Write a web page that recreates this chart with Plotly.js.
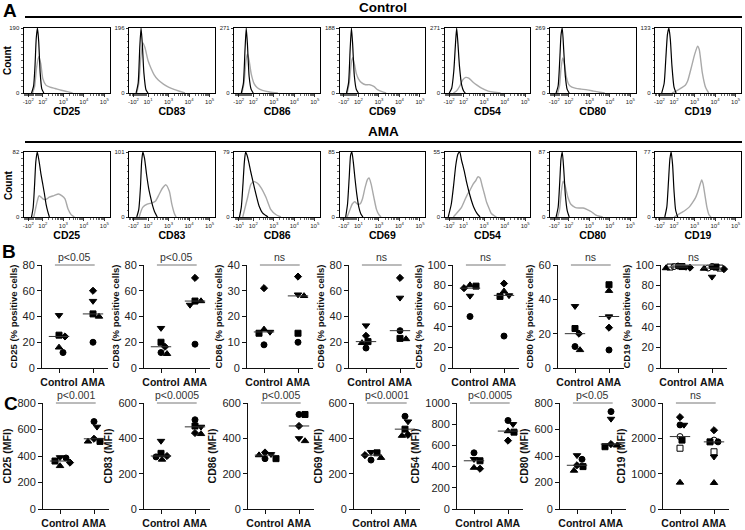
<!DOCTYPE html>
<html>
<head>
<meta charset="utf-8">
<script src="https://cdn.plot.ly/plotly-3.0.1.min.js"></script>
<style>html,body{margin:0;padding:0;background:#fff}#chart{width:745px;height:530px}</style>
</head>
<body>
<div id="chart"></div>
<script>
// ================= DATA =================
const markers = ['CD25','CD83','CD86','CD69','CD54','CD80','CD19'];

// Panel A: histograms (x = log10 fluorescence on logicle display, y = cell count)
const ctrlCountMax = [190,196,271,188,271,269,133];
const amaCountMax  = [82,101,79,85,55,87,77];
const ctrlLowExp  = [2,2,2,2,2,2,2];
const ctrlHighExp = [2,1,2,2,2,2,2];
const amaLowExp   = [2,2,1,2,2,2,2];
const amaHighExp  = [2,2,2,1,1,2,2];

const ctrlIsoX = [
 [1.45,1.55,1.62,1.68,1.74,1.8,1.87,1.95,2.05],
 [1.42,1.52,1.6,1.66,1.72,1.8,1.9,2.0],
 [1.42,1.52,1.6,1.66,1.72,1.8,1.9,2.0],
 [1.42,1.52,1.6,1.66,1.72,1.8,1.9,2.0],
 [1.3,1.42,1.52,1.6,1.66,1.72,1.8,1.9,2.0,2.08],
 [1.38,1.48,1.56,1.62,1.68,1.75,1.83,1.92,2.02],
 [1.4,1.52,1.6,1.68,1.75,1.82,1.9,2.0,2.1]
];
const ctrlIsoY = [
 [0,20,80,160,190,150,60,12,0],
 [0,30,140,196,150,60,10,0],
 [0,40,180,271,200,70,15,0],
 [0,30,130,188,140,50,10,0],
 [0,20,90,200,271,210,110,35,8,0],
 [0,30,140,240,269,180,70,15,0],
 [0,20,70,120,133,110,55,12,0]
];
const ctrlStainX = [
 [1.5,1.6,1.7,1.8,1.9,2.0,2.15,2.35,2.6,2.9,3.2,3.45],
 [1.45,1.55,1.65,1.75,1.85,2.0,2.15,2.3,2.5,2.75,3.0,3.3,3.6,3.8],
 [1.45,1.55,1.65,1.72,1.8,1.9,2.05,2.2,2.45,2.8,3.2],
 [1.45,1.55,1.65,1.72,1.8,1.9,2.0,2.15,2.35,2.55,2.75,2.95,3.15,3.35],
 [1.5,1.65,1.8,1.95,2.1,2.25,2.45,2.65,2.9,3.2,3.5,3.8],
 [1.45,1.55,1.62,1.7,1.78,1.88,2.0,2.15,2.35,2.6,2.9,3.2,3.5,3.75],
 [1.9,2.1,2.38,2.55,2.66,2.86,3.0,3.15,3.23,3.38,3.54,3.69]
];
const ctrlStainY = [
 [0,19,76,106,86,42,23,17,13,8,4,0],
 [0,29,108,151,137,98,74,55,39,27,18,10,4,0],
 [0,41,136,163,136,81,38,22,11,4,0],
 [0,28,85,102,85,56,41,30,24,24,19,9,4,0],
 [0,8,27,54,65,62,46,33,19,8,3,0],
 [0,32,102,145,121,67,35,24,19,16,13,8,3,0],
 [0,4,11,16,24,55,78,96,89,41,11,0]
];
const amaIsoX = [
 [1.45,1.53,1.6,1.66,1.73,1.82,1.91,2.0,2.08,2.16,2.24,2.32],
 [1.45,1.55,1.63,1.69,1.75,1.83,1.93,2.03,2.13,2.22,2.32,2.45],
 [1.33,1.42,1.5,1.57,1.63,1.7,1.78,1.88,1.97,2.13,2.29,2.45,2.6,2.72],
 [1.38,1.47,1.55,1.62,1.68,1.75,1.83,1.92,2.02,2.12,2.22],
 [1.25,1.4,1.52,1.62,1.72,1.81,1.9,2.03,2.15,2.25,2.38,2.5,2.65,2.8],
 [1.38,1.48,1.56,1.62,1.68,1.75,1.83,1.92,2.02],
 [1.55,1.65,1.73,1.8,1.86,1.93,2.0,2.08,2.18]
];
const amaIsoY = [
 [0,12,41,70,82,70,54,41,29,16,7,0],
 [0,12,45,86,101,91,66,45,30,18,8,0],
 [0,12,40,67,79,75,67,55,45,28,13,5,2,0],
 [0,17,51,81,85,72,51,30,13,4,0],
 [0,11,28,44,53,55,48,39,29,22,14,8,3,0],
 [0,13,48,78,87,65,30,9,0],
 [0,12,42,69,77,62,31,8,0]
];
const amaStainX = [
 [1.56,1.73,1.82,2.0,2.15,2.31,2.54,2.77,2.92,3.08,3.23,3.38,3.54],
 [1.57,1.74,1.96,2.21,2.37,2.54,2.71,2.87,3.04,3.16,3.29,3.37],
 [1.49,1.73,1.89,2.05,2.21,2.37,2.62,2.86,3.1,3.35],
 [1.45,1.58,1.7,1.82,1.95,2.08,2.2,2.32,2.44,2.52,2.62,2.75,2.88,3.0,3.1],
 [1.5,1.7,1.89,2.05,2.18,2.32,2.47,2.6,2.69,2.8,2.91,3.02,3.13,3.25,3.35,3.5,3.6],
 [1.45,1.55,1.63,1.72,1.82,1.96,2.1,2.3,2.5,2.7,2.9,3.1,3.3,3.5,3.65],
 [2.0,2.15,2.35,2.55,2.75,2.9,3.05,3.15,3.25,3.35,3.42,3.5,3.6,3.7,3.8]
];
const amaStainY = [
 [0,20,27,23,22,25,27,29,27,23,10,3,0],
 [0,15,20,22,25,35,45,50,40,20,5,0],
 [0,24,40,43,41,36,24,9,3,0],
 [0,9,17,20,17,17,24,38,49,51,43,26,10,3,0],
 [0,4,8,14,19,23,28,31,34,33,26,19,12,7,3,1,0],
 [0,10,33,48,42,26,17,13,12,12,10,7,3,1,0],
 [0,2,5,8,12,17,23,29,37,44,39,27,12,3,0]
];

// Panels B & C: one value per donor; donor symbols in this order
const donorSymbols = ['circle','square','triangle-up','triangle-down','diamond','circle-open','square-open'];
const groups = ['Control','AMA'];

const pctCtrl = [
 [12,25.5,16,41,24.5],
 [12,20,11,31,16.5],
 [9,13.5,15,14,31],
 [15.5,20.5,19.5,33,25],
 [50,79.5,80.5,70,77.5],
 [12.5,23,10.5,36,20],
 [99,98.5,97,98,97.5,98.5,98]
];
const pctAma = [
 [20,42,40,52,60],
 [18.5,52,52,49,70],
 [10,13.5,28,28.5,35.5],
 [29,23,22.5,54.5,70],
 [31,69.5,74.5,70.5,82],
 [10.5,48.5,45,30,23.5],
 [98.5,98,96.5,88.5,96,97,97]
];
const pctMax  = [80,80,40,80,100,60,100];
const pctStep = [20,20,10,20,20,20,20];
const pctP = ['p<0.05','p<0.05','ns','ns','ns','ns','ns'];

const mfiCtrl = [
 [385,362,325,390,350],
 [295,315,280,385,300],
 [285,285,305,310,320],
 [277,318,290,322,305],
 [530,455,390,470,380],
 [375,320,290,405,330],
 [2380,1950,750,2380,2600,2050,1720]
];
const mfiAma = [
 [660,510,510,620,530],
 [505,470,425,465,430],
 [535,535,385,400,470],
 [525,452,415,495,420],
 [835,725,735,800,645],
 [735,470,480,680,490],
 [1900,1900,740,1480,2230,1950,1620]
];
const mfiMax  = [800,600,600,600,1000,800,3000];
const mfiStep = [200,200,200,200,200,200,1000];
const mfiP = ['p<0.001','p<0.0005','p<0.005','p<0.0001','p<0.0005','p<0.05','ns'];

// ================= DRAWING =================
const W = 745, H = 530;
const FONT = 'Liberation Sans, Arial, Helvetica, sans-serif';
const fx = p => p / W, fy = p => 1 - p / H;
const traces = [], shapes = [], annotations = [];
const layout = {
  width: W, height: H, margin: {l:0, r:0, t:0, b:0},
  paper_bgcolor: '#fff', plot_bgcolor: '#fff', showlegend: false,
  font: {family: FONT, color: '#000'}
};
let axN = 0;
function addAxes(xd, yd, xopt, yopt) {
  axN++;
  const k = axN === 1 ? '' : axN;
  layout['xaxis' + k] = Object.assign({domain: xd, anchor: 'y' + k, fixedrange: true, showgrid: false, zeroline: false}, xopt);
  layout['yaxis' + k] = Object.assign({domain: yd, anchor: 'x' + k, fixedrange: true, showgrid: false, zeroline: false}, yopt);
  return {x: 'x' + k, y: 'y' + k};
}

// ---- Panel A ----
const hxRange = [1.083, 5.25];
const hxMajor = [1.29, 2, 3, 4, 5];
const hxMinor = [];
for (let v = 1.12; v < 1.97; v += 0.05) hxMinor.push(+v.toFixed(3));
[2,3,4].forEach(d => { for (let m = 2; m <= 9; m++) hxMinor.push(d + Math.log10(m)); });
const sup = (e, neg) => (neg ? '-' : '') + '10<sup>' + e + '</sup>';

function histPanel(col, row, maxC, isoX, isoY, stX, stY, lowE, highE) {
  const left = 24 + 105.2 * col, right = left + 85.5;
  const top = row ? 152 : 28, bottom = row ? 217 : 93;
  const yMinor = [];
  for (let i = 1; i < 10; i++) yMinor.push(maxC * i / 10);
  const ax = addAxes([fx(left), fx(right)], [fy(bottom), fy(top)], {
    range: hxRange, showline: true, mirror: true, linecolor: '#000', linewidth: 1,
    ticks: 'outside', ticklen: 2.5, tickwidth: 0.8, tickcolor: '#000', tickangle: 0,
    tickvals: hxMajor,
    ticktext: [sup(lowE, true), sup(highE), sup(3), sup(4), sup(5)],
    tickfont: {size: 6, color: '#222'},
    minor: {tickvals: hxMinor, ticks: 'outside', ticklen: 1.6, tickwidth: 0.6, tickcolor: '#000'},
    title: {text: markers[col], font: {size: 10.5, weight: 'bold'}, standoff: 3}
  }, {
    range: [0, maxC], showline: true, mirror: true, linecolor: '#000', linewidth: 1,
    ticks: 'outside', ticklen: 2.5, tickwidth: 0.8, tickcolor: '#000',
    tickvals: [0, maxC], ticktext: ['0', String(maxC)],
    tickfont: {size: 6, color: '#222'},
    minor: {tickvals: yMinor, ticks: 'outside', ticklen: 1.6, tickwidth: 0.6, tickcolor: '#000'}
  });
  traces.push({type: 'scatter', mode: 'lines', x: stX, y: stY, xaxis: ax.x, yaxis: ax.y,
    line: {color: '#a9a9a9', width: 1.4, shape: 'spline', smoothing: 0.6}, hoverinfo: 'skip'});
  traces.push({type: 'scatter', mode: 'lines', x: isoX, y: isoY, xaxis: ax.x, yaxis: ax.y,
    line: {color: '#000', width: 1.2, shape: 'spline', smoothing: 0.6}, hoverinfo: 'skip'});
}
for (let c = 0; c < 7; c++) {
  histPanel(c, 0, ctrlCountMax[c], ctrlIsoX[c], ctrlIsoY[c], ctrlStainX[c], ctrlStainY[c], ctrlLowExp[c], ctrlHighExp[c]);
}
for (let c = 0; c < 7; c++) {
  histPanel(c, 1, amaCountMax[c], amaIsoX[c], amaIsoY[c], amaStainX[c], amaStainY[c], amaLowExp[c], amaHighExp[c]);
}

// ---- Panels B & C ----
const plotW = 66;
const dxRange = [-0.5, -0.5 + plotW / 34];
function median(a) { const s = a.slice().sort((p, q) => p - q); const m = s.length >> 1; return s.length % 2 ? s[m] : (s[m-1] + s[m]) / 2; }
function swarm(vals, pyPerUnit, pxPerUnit, gap) {
  const order = vals.map((v, i) => i).sort((a, b) => vals[b] - vals[a]);
  const placed = [], off = new Array(vals.length).fill(0);
  for (const i of order) {
    const y = vals[i] * pyPerUnit;
    for (let k = 0; k < 80; k++) {
      const dx = (k % 2 ? 1 : -1) * Math.ceil(k / 2);
      if (placed.every(p => (p.x - dx) ** 2 + (p.y - y) ** 2 >= gap * gap)) {
        off[i] = dx / pxPerUnit; placed.push({x: dx, y}); break;
      }
    }
  }
  return off;
}
function dotPanel(axisLeft, top, bottom, ctrl, ama, maxV, step, yTitle, pText, titleSize) {
  const ax = addAxes([fx(axisLeft), fx(axisLeft + plotW)], [fy(bottom), fy(top)], {
    range: dxRange, showline: true, linecolor: '#111', linewidth: 1,
    ticks: 'outside', ticklen: 4, tickwidth: 1, tickcolor: '#111', tickangle: 0,
    tickvals: [0, 1], ticktext: groups,
    tickfont: {size: 10.5, weight: 'bold', color: '#111'}
  }, {
    range: [0, maxV], showline: true, linecolor: '#111', linewidth: 1,
    ticks: 'outside', ticklen: 4, tickwidth: 1, tickcolor: '#111',
    tick0: 0, dtick: step, tickfont: {size: 11, color: '#222'},
    title: {text: yTitle, font: {size: titleSize, weight: 'bold', color: '#111'}, standoff: 3}
  });
  const pxU = plotW / (dxRange[1] - dxRange[0]);
  const pyU = (bottom - top) / maxV;
  const gap = ctrl.length > 5 ? 3.8 : 6;
  [ctrl, ama].forEach((vals, g) => {
    const off = swarm(vals, pyU, pxU, gap);
    const syms = vals.map((v, i) => donorSymbols[i]);
    const sizes = syms.map(s => s === 'diamond' ? 5.5 : (s.indexOf('triangle') === 0 ? 6.5 : 6));
    traces.push({type: 'scatter', mode: 'markers', x: vals.map((v, i) => g + off[i]), y: vals,
      xaxis: ax.x, yaxis: ax.y, cliponaxis: false, hoverinfo: 'skip',
      marker: {symbol: syms, size: sizes, opacity: 1, color: '#000', line: {color: '#000', width: 1}}});
    const med = median(vals);
    traces.push({type: 'scatter', mode: 'lines', x: [g - 0.3, g + 0.3], y: [med, med],
      xaxis: ax.x, yaxis: ax.y, hoverinfo: 'skip', line: {color: '#333', width: 1}});
  });
  const fr = v => (v - dxRange[0]) / (dxRange[1] - dxRange[0]);
  shapes.push({type: 'line', xref: ax.x + ' domain', yref: ax.y + ' domain',
    x0: fr(-0.12), x1: fr(1.05), y0: 1, y1: 1, line: {color: '#777', width: 1}});
  annotations.push({xref: ax.x, yref: ax.y + ' domain', x: 0.46, y: 1, yanchor: 'bottom', yshift: 0,
    text: pText, showarrow: false, font: {size: 10.5, color: '#333'}});
}
const bLefts = [42, 144, 247, 349, 453, 558, 661];
const cLefts = [43, 144, 248, 354, 457, 560, 663];
for (let c = 0; c < 7; c++) {
  dotPanel(bLefts[c], 265, 368, pctCtrl[c], pctAma[c], pctMax[c], pctStep[c],
    markers[c] + ' (% positive cells)', pctP[c], 9.5);
}
for (let c = 0; c < 7; c++) {
  dotPanel(cLefts[c], 403, 509, mfiCtrl[c], mfiAma[c], mfiMax[c], mfiStep[c],
    markers[c] + ' (MFI)', mfiP[c], 10.5);
}

// ---- headings, labels ----
function label(text, xp, yp, size, extra) {
  annotations.push(Object.assign({xref: 'paper', yref: 'paper', x: fx(xp), y: fy(yp),
    xanchor: 'center', yanchor: 'middle', showarrow: false, text: text,
    font: {size: size, weight: 'bold', color: '#000'}}, extra || {}));
}
label('A', 10, 11, 19);
label('B', 9, 251, 19);
label('C', 11, 403, 19);
label('Control', 383, 8, 13.5);
label('AMA', 383, 132, 13.5);
label('Count', 8, 60, 10, {textangle: -90});
label('Count', 8, 185, 10, {textangle: -90});
shapes.push({type: 'line', xref: 'paper', yref: 'paper', x0: fx(25), x1: fx(742), y0: fy(17), y1: fy(17), line: {color: '#000', width: 2}});
shapes.push({type: 'line', xref: 'paper', yref: 'paper', x0: fx(25), x1: fx(742), y0: fy(142), y1: fy(142), line: {color: '#000', width: 2}});

layout.shapes = shapes;
layout.annotations = annotations;
Plotly.newPlot('chart', traces, layout, {staticPlot: true, displayModeBar: false});
</script>
</body>
</html>
